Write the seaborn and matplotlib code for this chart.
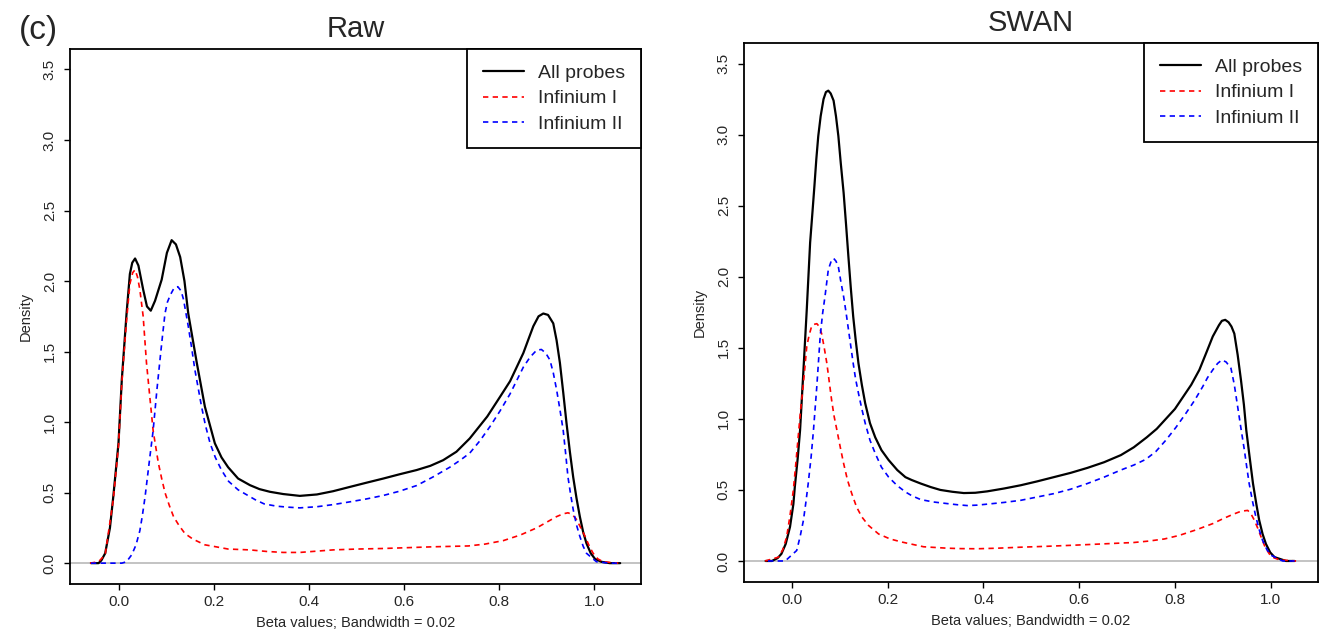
import matplotlib
matplotlib.use("Agg")
import matplotlib.pyplot as plt
import seaborn as sns

# ---- data (x = beta value, y = density) ----
raw_all_x = [-0.060, -0.044, -0.038, -0.030, -0.020, -0.013, -0.002, 0.005, 0.015, 0.022,
             0.027, 0.033, 0.040, 0.050, 0.058, 0.066, 0.075, 0.089, 0.100, 0.110,
             0.119, 0.128, 0.137, 0.145, 0.163, 0.180, 0.201, 0.215, 0.229, 0.250,
             0.275, 0.295, 0.317, 0.345, 0.380, 0.416, 0.450, 0.486, 0.520, 0.556,
             0.590, 0.626, 0.655, 0.682, 0.710, 0.738, 0.775, 0.802, 0.823, 0.851,
             0.862, 0.872, 0.883, 0.893, 0.903, 0.914, 0.921, 0.928, 0.935, 0.942,
             0.949, 0.956, 0.963, 0.970, 0.977, 0.984, 0.993, 1.002, 1.015, 1.033,
             1.055]
raw_all_y = [0.0, 0.0, 0.02, 0.07, 0.25, 0.47, 0.85, 1.30, 1.77, 2.05,
             2.13, 2.16, 2.11, 1.94, 1.82, 1.79, 1.86, 2.01, 2.20, 2.29,
             2.26, 2.17, 2.00, 1.77, 1.42, 1.11, 0.85, 0.75, 0.68, 0.60,
             0.553, 0.525, 0.506, 0.49, 0.477, 0.487, 0.51, 0.541, 0.57, 0.60,
             0.63, 0.66, 0.69, 0.73, 0.79, 0.884, 1.04, 1.18, 1.29, 1.49,
             1.59, 1.68, 1.75, 1.77, 1.76, 1.70, 1.58, 1.42, 1.21, 0.99,
             0.79, 0.61, 0.46, 0.33, 0.22, 0.14, 0.07, 0.03, 0.01, 0.0,
             0.0]

raw_inf1_x = [-0.062, -0.044, -0.030, -0.013, -0.002, 0.005, 0.015, 0.022, 0.028, 0.033,
              0.038, 0.043, 0.050, 0.057, 0.064, 0.071, 0.082, 0.089, 0.096, 0.105,
              0.114, 0.125, 0.138, 0.155, 0.180, 0.205, 0.229, 0.275, 0.310, 0.345,
              0.380, 0.450, 0.500, 0.556, 0.661, 0.735, 0.770, 0.809, 0.845, 0.879,
              0.900, 0.921, 0.935, 0.945, 0.954, 0.963, 0.972, 0.981, 0.990, 0.998,
              1.008, 1.019, 1.051]
raw_inf1_y = [0.0, 0.01, 0.06, 0.45, 0.83, 1.28, 1.72, 1.98, 2.06, 2.08,
              2.03, 1.94, 1.75, 1.42, 1.18, 0.94, 0.71, 0.60, 0.50, 0.41,
              0.33, 0.27, 0.21, 0.17, 0.13, 0.115, 0.10, 0.094, 0.083, 0.076,
              0.076, 0.094, 0.10, 0.104, 0.116, 0.122, 0.135, 0.16, 0.20, 0.25,
              0.29, 0.33, 0.35, 0.357, 0.345, 0.31, 0.25, 0.19, 0.12, 0.07,
              0.03, 0.01, 0.0]

raw_inf2_x = [-0.060, 0.005, 0.015, 0.026, 0.035, 0.043, 0.048, 0.054, 0.059, 0.064,
              0.071, 0.079, 0.086, 0.091, 0.096, 0.101, 0.107, 0.115, 0.123, 0.130,
              0.135, 0.145, 0.152, 0.159, 0.166, 0.173, 0.181, 0.191, 0.202, 0.215,
              0.230, 0.250, 0.286, 0.305, 0.331, 0.355, 0.380, 0.416, 0.450, 0.486,
              0.520, 0.556, 0.590, 0.626, 0.660, 0.696, 0.718, 0.738, 0.760, 0.781,
              0.802, 0.823, 0.851, 0.865, 0.879, 0.889, 0.898, 0.907, 0.914, 0.921,
              0.928, 0.935, 0.940, 0.945, 0.950, 0.956, 0.963, 0.970, 0.977, 0.984,
              1.005, 1.033, 1.055]
raw_inf2_y = [0.0, 0.0, 0.01, 0.06, 0.13, 0.23, 0.33, 0.47, 0.61, 0.75,
              0.94, 1.23, 1.46, 1.62, 1.77, 1.85, 1.90, 1.95, 1.96, 1.93,
              1.87, 1.68, 1.53, 1.37, 1.24, 1.11, 0.98, 0.85, 0.75, 0.66,
              0.58, 0.52, 0.45, 0.42, 0.404, 0.397, 0.392, 0.40, 0.415, 0.435,
              0.455, 0.48, 0.51, 0.55, 0.61, 0.68, 0.73, 0.78, 0.87, 0.97,
              1.08, 1.20, 1.39, 1.46, 1.51, 1.515, 1.49, 1.44, 1.35, 1.23,
              1.09, 0.94, 0.78, 0.61, 0.50, 0.38, 0.27, 0.19, 0.12, 0.07,
              0.01, 0.0, 0.0]

swan_all_x = [-0.055, -0.042, -0.030, -0.022, -0.013, -0.004, 0.003, 0.006, 0.012, 0.017,
              0.024, 0.031, 0.038, 0.043, 0.047, 0.051, 0.055, 0.060, 0.066, 0.071,
              0.076, 0.081, 0.087, 0.092, 0.097, 0.102, 0.108, 0.113, 0.118, 0.123,
              0.128, 0.133, 0.139, 0.146, 0.153, 0.163, 0.174, 0.187, 0.202, 0.220,
              0.237, 0.250, 0.269, 0.290, 0.310, 0.335, 0.359, 0.383, 0.408, 0.443,
              0.478, 0.512, 0.547, 0.582, 0.617, 0.652, 0.687, 0.714, 0.741, 0.762,
              0.781, 0.800, 0.816, 0.834, 0.851, 0.866, 0.879, 0.892, 0.898, 0.905,
              0.912, 0.918, 0.924, 0.931, 0.938, 0.944, 0.949, 0.956, 0.963, 0.970,
              0.976, 0.983, 0.990, 0.999, 1.008, 1.032, 1.050]
swan_all_y = [0.0, 0.0, 0.02, 0.05, 0.12, 0.24, 0.40, 0.52, 0.72, 0.92,
              1.34, 1.77, 2.24, 2.46, 2.64, 2.83, 2.99, 3.13, 3.25, 3.30,
              3.31, 3.29, 3.24, 3.13, 2.99, 2.80, 2.59, 2.37, 2.14, 1.92,
              1.72, 1.56, 1.39, 1.24, 1.11, 0.97, 0.87, 0.78, 0.71, 0.64,
              0.59, 0.57, 0.545, 0.52, 0.50, 0.487, 0.478, 0.48, 0.49, 0.51,
              0.533, 0.56, 0.59, 0.62, 0.655, 0.695, 0.745, 0.80, 0.87, 0.93,
              1.00, 1.07, 1.15, 1.24, 1.345, 1.47, 1.58, 1.66, 1.69, 1.697,
              1.68, 1.65, 1.60, 1.45, 1.27, 1.10, 0.92, 0.73, 0.545, 0.40,
              0.286, 0.19, 0.12, 0.06, 0.027, 0.0, 0.0]

swan_inf1_x = [-0.056, -0.028, -0.019, -0.011, -0.004, 0.003, 0.008, 0.013, 0.018, 0.024,
               0.031, 0.036, 0.041, 0.046, 0.052, 0.057, 0.062, 0.067, 0.073, 0.078,
               0.083, 0.088, 0.094, 0.101, 0.108, 0.116, 0.125, 0.135, 0.146, 0.160,
               0.181, 0.205, 0.230, 0.275, 0.324, 0.353, 0.387, 0.430, 0.478, 0.530,
               0.582, 0.635, 0.687, 0.714, 0.745, 0.778, 0.809, 0.845, 0.879, 0.900,
               0.921, 0.938, 0.952, 0.959, 0.966, 0.973, 0.980, 0.988, 0.997, 1.005,
               1.018, 1.053]
swan_inf1_y = [0.0, 0.027, 0.08, 0.17, 0.32, 0.50, 0.68, 0.87, 1.06, 1.25,
               1.51, 1.59, 1.65, 1.665, 1.67, 1.65, 1.60, 1.51, 1.39, 1.26,
               1.13, 1.02, 0.92, 0.80, 0.686, 0.57, 0.474, 0.38, 0.31, 0.25,
               0.19, 0.155, 0.133, 0.10, 0.09, 0.087, 0.086, 0.09, 0.097, 0.103,
               0.11, 0.118, 0.126, 0.13, 0.14, 0.155, 0.18, 0.22, 0.263, 0.297,
               0.328, 0.35, 0.356, 0.33, 0.286, 0.23, 0.168, 0.10, 0.05, 0.025,
               0.008, 0.0]

swan_inf2_x = [-0.050, -0.014, 0.010, 0.017, 0.024, 0.029, 0.034, 0.040, 0.045, 0.052,
               0.059, 0.064, 0.069, 0.076, 0.082, 0.087, 0.092, 0.097, 0.102, 0.108,
               0.113, 0.118, 0.123, 0.128, 0.133, 0.139, 0.146, 0.153, 0.163, 0.174,
               0.187, 0.202, 0.220, 0.237, 0.250, 0.269, 0.296, 0.324, 0.345, 0.366,
               0.387, 0.408, 0.443, 0.478, 0.512, 0.547, 0.582, 0.617, 0.652, 0.687,
               0.714, 0.739, 0.760, 0.781, 0.802, 0.823, 0.841, 0.858, 0.868, 0.879,
               0.889, 0.898, 0.907, 0.917, 0.924, 0.931, 0.938, 0.945, 0.950, 0.955,
               0.962, 0.969, 0.976, 0.983, 0.992, 1.001, 1.025, 1.050]
swan_inf2_y = [0.0, 0.0, 0.074, 0.17, 0.286, 0.41, 0.545, 0.73, 0.92, 1.23,
               1.58, 1.74, 1.86, 2.05, 2.11, 2.13, 2.11, 2.07, 1.97, 1.86,
               1.75, 1.63, 1.51, 1.39, 1.28, 1.18, 1.07, 0.97, 0.85, 0.757,
               0.66, 0.59, 0.53, 0.486, 0.46, 0.432, 0.415, 0.404, 0.396, 0.39,
               0.393, 0.40, 0.412, 0.427, 0.45, 0.474, 0.505, 0.545, 0.59, 0.64,
               0.675, 0.715, 0.77, 0.85, 0.94, 1.04, 1.13, 1.227, 1.29, 1.345,
               1.39, 1.415, 1.40, 1.356, 1.24, 1.085, 0.93, 0.78, 0.66, 0.545,
               0.42, 0.31, 0.22, 0.145, 0.08, 0.04, 0.0, 0.0]

panel_titles = ["Raw", "SWAN"]
series_labels = ["All probes", "Infinium I", "Infinium II"]
x_ticks = [0.0, 0.2, 0.4, 0.6, 0.8, 1.0]
y_ticks = [0.0, 0.5, 1.0, 1.5, 2.0, 2.5, 3.0, 3.5]

sns.set_style("white")
plt.rcParams['font.family'] = ['Liberation Sans', 'DejaVu Sans']

fig = plt.figure(figsize=(13.27, 6.32), dpi=100)
ax_raw = fig.add_axes([0.0528, 0.0759, 0.4303, 0.8465])
ax_swan = fig.add_axes([0.5607, 0.0791, 0.4326, 0.8528])

panels = [
    (ax_raw, (raw_all_x, raw_all_y), (raw_inf1_x, raw_inf1_y), (raw_inf2_x, raw_inf2_y), (-0.104, 1.099)),
    (ax_swan, (swan_all_x, swan_all_y), (swan_inf1_x, swan_inf1_y), (swan_inf2_x, swan_inf2_y), (-0.100, 1.099)),
]

for (ax, all_p, inf1, inf2, xlim), title in zip(panels, panel_titles):
    ax.axhline(0, color="#BEBEBE", lw=1.3, zorder=0)
    sns.lineplot(x=all_p[0], y=all_p[1], ax=ax, color="black", lw=1.6,
                 sort=False, estimator=None, label=series_labels[0])
    sns.lineplot(x=inf1[0], y=inf1[1], ax=ax, color="#FF0000", lw=1.2,
                 sort=False, estimator=None, label=series_labels[1])
    sns.lineplot(x=inf2[0], y=inf2[1], ax=ax, color="#0000FF", lw=1.2,
                 sort=False, estimator=None, label=series_labels[2])
    # R style lty = 2 for the two probe types
    for ln in ax.get_lines()[2:]:
        ln.set_dashes((3.2, 2.6))

    ax.set_xlim(*xlim)
    ax.set_ylim(-0.148, 3.645)
    ax.set_xticks(x_ticks)
    ax.set_xticklabels([f"{t:.1f}" for t in x_ticks], fontsize=11)
    ax.set_yticks(y_ticks)
    ax.set_yticklabels([f"{t:.1f}" for t in y_ticks], fontsize=11, rotation=90, va="center")
    ax.tick_params(axis="both", direction="out", length=4.5, width=1.0, color="black",
                   bottom=True, left=True)
    ax.tick_params(axis="x", pad=3.5)
    ax.tick_params(axis="y", pad=5)
    for sp in ax.spines.values():
        sp.set_color("black")
        sp.set_linewidth(1.3)

    ax.set_title(title, fontsize=21, pad=9)
    ax.set_xlabel("Beta values; Bandwidth = 0.02", fontsize=10.5, labelpad=5)
    ax.set_ylabel("Density", fontsize=10.5, labelpad=7)

    leg = ax.legend(loc="upper right", borderaxespad=0, fancybox=False, framealpha=1,
                    edgecolor="black", fontsize=14, handlelength=2.1, handletextpad=0.75,
                    borderpad=0.8, labelspacing=0.39)
    leg.get_frame().set_linewidth(1.3)

fig.text(0.014, 0.951, "(c)", fontsize=24, va="center", ha="left")

fig.savefig("out.png", dpi=100)
